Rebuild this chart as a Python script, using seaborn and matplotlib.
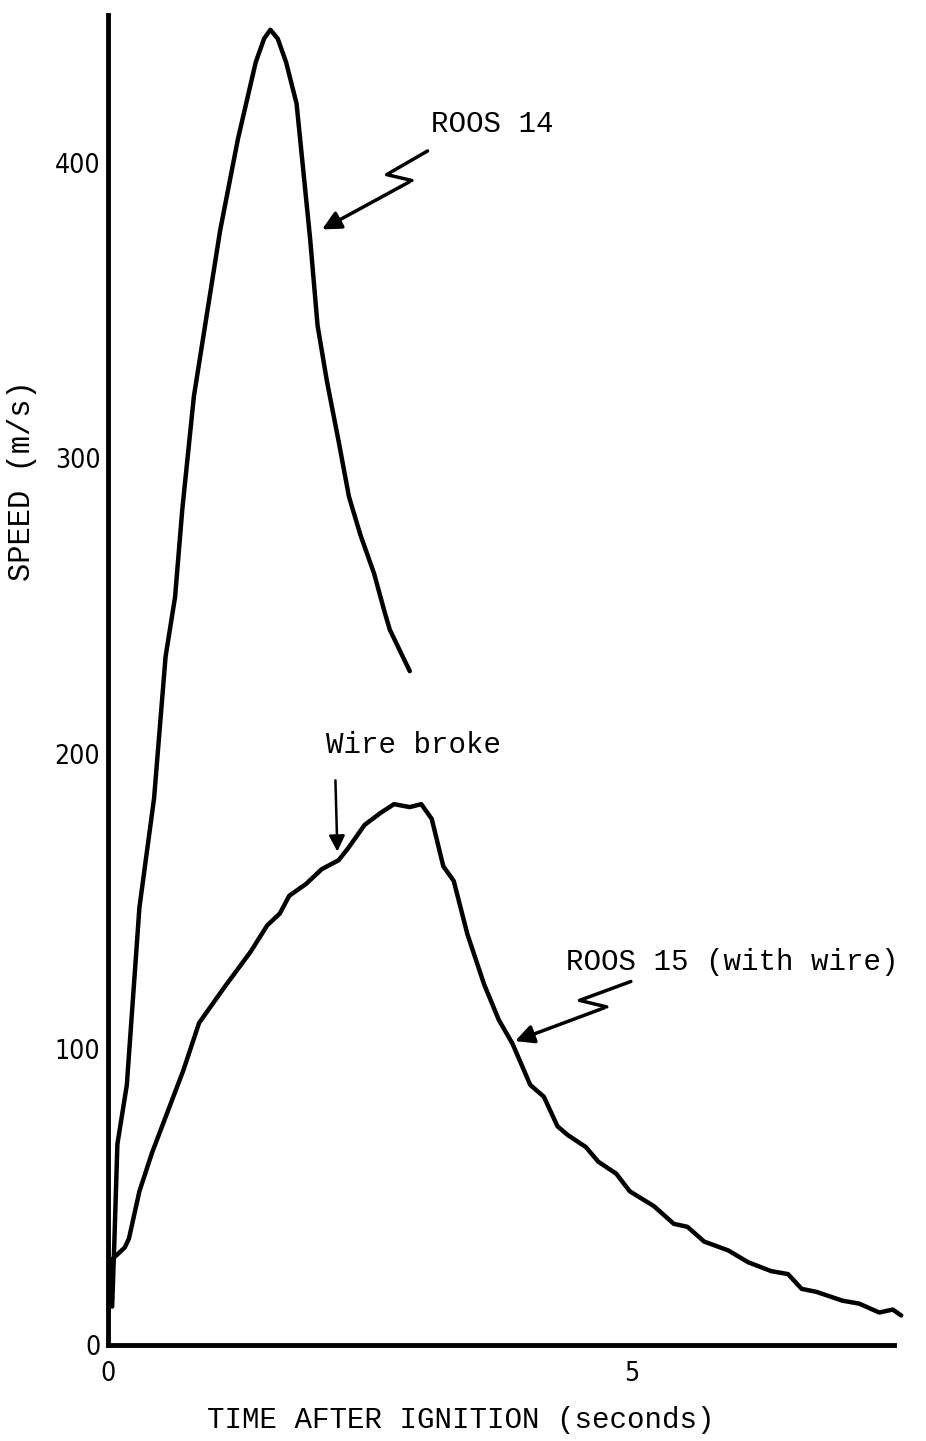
import numpy as np
import pandas as pd
import matplotlib
matplotlib.use("Agg")
import matplotlib.pyplot as plt
import seaborn as sns

# Data (time in s, speed in m/s)
roos14_t = [0.04, 0.06, 0.09, 0.18, 0.30, 0.44, 0.55, 0.64, 0.71, 0.82, 1.07, 1.24,
            1.41, 1.49, 1.55, 1.62, 1.70, 1.80, 1.93, 2.00, 2.09, 2.20, 2.30, 2.41,
            2.54, 2.64, 2.69, 2.88]
roos14_v = [13, 34, 68, 88, 148, 185, 233, 253, 283, 321, 377, 408,
            434, 442, 445, 442, 434, 420, 374, 345, 326, 306, 287, 274,
            261, 248, 242, 228]

roos15_t = [0.03, 0.04, 0.16, 0.20, 0.30, 0.42, 0.57, 0.72, 0.87, 1.11, 1.36, 1.52,
            1.64, 1.73, 1.89, 2.04, 2.20, 2.29, 2.45, 2.60, 2.73, 2.88, 2.99, 3.09,
            3.20, 3.30, 3.43, 3.59, 3.73, 3.86, 4.03, 4.16, 4.29, 4.39, 4.56, 4.68,
            4.85, 4.98, 5.21, 5.40, 5.53, 5.69, 5.92, 6.11, 6.33, 6.49, 6.62, 6.76,
            7.01, 7.17, 7.36, 7.49, 7.57]
roos15_v = [14, 29, 33, 36, 52, 65, 79, 93, 109, 121, 133, 142,
            146, 152, 156, 161, 164, 168, 176, 180, 183, 182, 183, 178,
            162, 157, 139, 122, 110, 102, 88, 84, 74, 71, 67, 62,
            58, 52, 47, 41, 40, 35, 32, 28, 25, 24, 19, 18,
            15, 14, 11, 12, 10]

y_ticks = [0, 50, 100, 150, 200, 250, 300, 350, 400]
y_labels = ["0", "", "100", "", "200", "", "300", "", "400"]
x_ticks = [0, 1.25, 2.5, 3.75, 5, 6.25, 7.5]
x_labels = ["0", "", "", "", "5", "", ""]

df14 = pd.DataFrame({"t": roos14_t, "v": roos14_v})
df15 = pd.DataFrame({"t": roos15_t, "v": roos15_v})

sns.set_style("white")
plt.rcParams["text.color"] = "black"
mono = "Liberation Mono"

fig = plt.figure(figsize=(9.26, 14.41), dpi=100)
ax = fig.add_axes([0.1166, 0.0666, 0.860, 0.923])

sns.lineplot(data=df14, x="t", y="v", ax=ax, color="black", lw=3.2,
             estimator=None, sort=False)
sns.lineplot(data=df15, x="t", y="v", ax=ax, color="black", lw=3.2,
             estimator=None, sort=False)

ax.set_xlim(0, 7.6)
ax.set_ylim(0, 450)
for s in ["top", "right"]:
    ax.spines[s].set_visible(False)
for s in ["left", "bottom"]:
    ax.spines[s].set_linewidth(3.5)
    ax.spines[s].set_color("black")
ax.spines["bottom"].set_bounds(0, 7.5)
ax.spines["left"].set_bounds(0, 450)

ax.set_yticks(y_ticks)
ax.set_yticklabels(y_labels)
ax.set_xticks(x_ticks)
ax.set_xticklabels(x_labels)
ax.tick_params(axis="both", direction="inout", length=7, width=3, color="black",
               labelsize=19, labelcolor="black")
ax.tick_params(axis="y", pad=2)
ax.tick_params(axis="x", pad=8)
for lab in ax.get_xticklabels() + ax.get_yticklabels():
    lab.set_fontstretch("condensed")

ax.set_xlabel("TIME AFTER IGNITION (seconds)", fontfamily=mono, fontsize=21,
              color="black", va="center")
ax.set_ylabel("SPEED (m/s)", fontfamily=mono, fontsize=22, color="black",
              va="center")
ax.xaxis.set_label_coords(0.443, -0.056)
ax.yaxis.set_label_coords(-0.108, 0.65)

# annotations
ax.text(3.08, 413, "ROOS 14", fontfamily=mono, fontsize=21, va="center", ha="left",
        color="black")
ax.plot([3.05, 2.66, 2.90], [404, 396, 394], color="black", lw=2.5)
ax.annotate("", xy=(2.02, 377), xytext=(2.90, 394),
            arrowprops=dict(arrowstyle="-|>", color="black", lw=2.5, mutation_scale=28))

ax.text(2.92, 203, "Wire broke", fontfamily=mono, fontsize=21, va="center", ha="center",
        color="black")
ax.annotate("", xy=(2.19, 166), xytext=(2.17, 192),
            arrowprops=dict(arrowstyle="-|>", color="black", lw=1.8, mutation_scale=24))

ax.text(4.37, 129.5, "ROOS 15 (with wire)", fontfamily=mono, fontsize=21, va="center",
        ha="left", color="black")
ax.plot([4.99, 4.50, 4.76], [123, 116.6, 114.4], color="black", lw=2.5)
ax.annotate("", xy=(3.86, 102.5), xytext=(4.76, 114.4),
            arrowprops=dict(arrowstyle="-|>", color="black", lw=2.5, mutation_scale=28))

fig.savefig("out.png", dpi=100, facecolor="white")
